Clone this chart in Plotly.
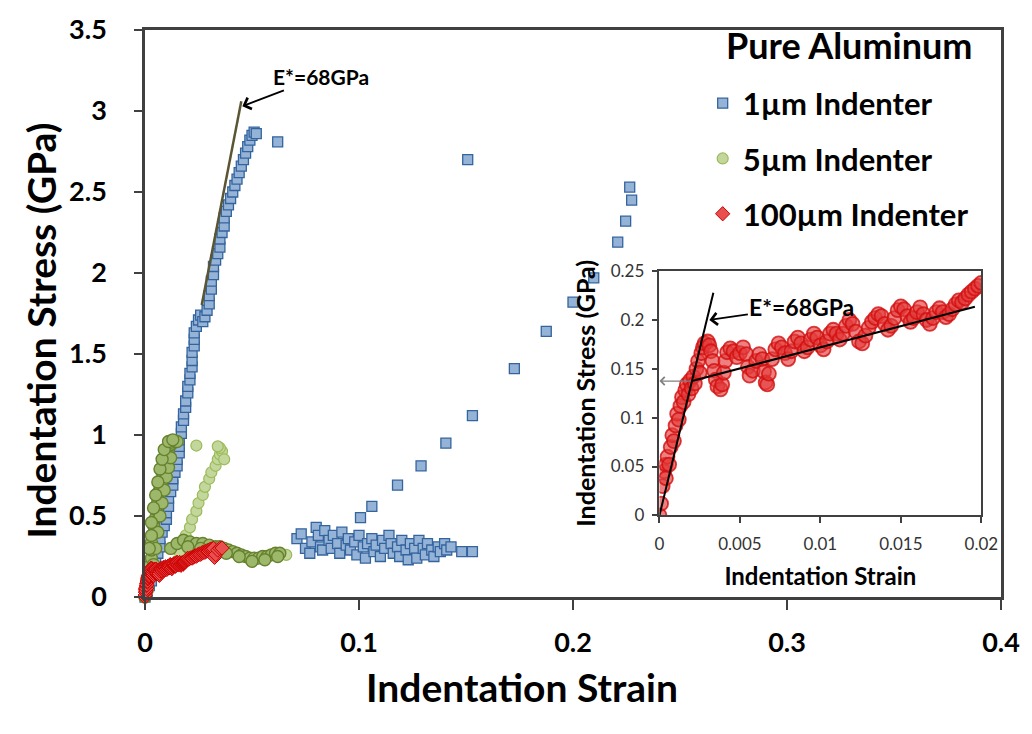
import plotly.graph_objects as go

# ---------------- data ----------------
# 1 um indenter (strain, stress in GPa)
strain_1um = [
    0.000, 0.001, 0.002, 0.003, 0.004, 0.004, 0.005, 0.006, 0.007, 0.007, 0.008, 0.009,
    0.010, 0.010, 0.011, 0.011, 0.012, 0.013, 0.013, 0.014, 0.015, 0.015, 0.016, 0.016,
    0.016, 0.017, 0.017, 0.018, 0.018, 0.019, 0.019, 0.020, 0.020, 0.021, 0.021, 0.022,
    0.022, 0.022, 0.023, 0.023, 0.023, 0.024, 0.025, 0.026, 0.027, 0.028, 0.029, 0.030,
    0.030, 0.031, 0.031, 0.032, 0.032, 0.033, 0.034, 0.035, 0.035, 0.036, 0.037, 0.037,
    0.038, 0.039, 0.040, 0.041, 0.042, 0.043, 0.044, 0.045, 0.046, 0.047, 0.048, 0.049,
    0.050, 0.051, 0.052,
    0.062,
    0.071, 0.073, 0.075, 0.077, 0.078, 0.080, 0.081, 0.082, 0.083, 0.084, 0.086, 0.087,
    0.088, 0.090, 0.091, 0.092, 0.094, 0.095, 0.096, 0.098, 0.099, 0.100, 0.102, 0.103,
    0.104, 0.106, 0.107, 0.108, 0.110, 0.111, 0.112, 0.114, 0.115, 0.116, 0.118, 0.119,
    0.120, 0.122, 0.123, 0.124, 0.126, 0.127, 0.128, 0.130, 0.131, 0.132, 0.134, 0.135,
    0.137, 0.138, 0.140, 0.141, 0.143, 0.148, 0.153,
    0.1007, 0.106, 0.118, 0.129, 0.1406, 0.153, 0.1726, 0.1875, 0.200, 0.2097, 0.2209,
    0.2246, 0.2274, 0.2265, 0.1508,
]
stress_1um = [
    0.00, 0.03, 0.07, 0.10, 0.14, 0.19, 0.23, 0.27, 0.31, 0.36, 0.40, 0.44,
    0.48, 0.52, 0.56, 0.61, 0.65, 0.69, 0.73, 0.77, 0.81, 0.85, 0.89, 0.93,
    0.97, 1.01, 1.05, 1.09, 1.13, 1.17, 1.21, 1.26, 1.30, 1.34, 1.38, 1.42,
    1.46, 1.51, 1.55, 1.59, 1.63, 1.67, 1.71, 1.74, 1.70, 1.73, 1.77, 1.81,
    1.86, 1.90, 1.95, 1.99, 2.04, 2.08, 2.12, 2.16, 2.21, 2.25, 2.29, 2.34,
    2.38, 2.42, 2.46, 2.50, 2.54, 2.58, 2.62, 2.66, 2.70, 2.74, 2.78, 2.82,
    2.85, 2.87, 2.86,
    2.81,
    0.36, 0.39, 0.30, 0.27, 0.34, 0.43, 0.38, 0.31, 0.29, 0.41, 0.35, 0.30,
    0.38, 0.33, 0.27, 0.40, 0.32, 0.36, 0.29, 0.34, 0.26, 0.38, 0.31, 0.24,
    0.33, 0.36, 0.28, 0.32, 0.25, 0.35, 0.30, 0.38, 0.33, 0.27, 0.31, 0.25,
    0.35, 0.29, 0.23, 0.33, 0.30, 0.24, 0.35, 0.30, 0.26, 0.33, 0.29, 0.25,
    0.31, 0.28, 0.33, 0.29, 0.31, 0.28, 0.28,
    0.49, 0.56, 0.69, 0.81, 0.95, 1.12, 1.41, 1.64, 1.82, 1.97, 2.19,
    2.32, 2.45, 2.53, 2.70,
]

# 5 um indenter: reloading branch (sparse points)
strain_5um_reload = [
    0.024,
    0.016, 0.018, 0.019, 0.021, 0.022, 0.024, 0.025, 0.027, 0.028, 0.030, 0.031, 0.033,
    0.034, 0.035, 0.036, 0.035, 0.034, 0.037, 0.066,
]
stress_5um_reload = [
    0.935,
    0.28, 0.33, 0.38, 0.43, 0.48, 0.53, 0.58, 0.63, 0.68, 0.73, 0.77, 0.81,
    0.85, 0.88, 0.90, 0.92, 0.93, 0.85, 0.26,
]
# 5 um indenter: first loading and unloaded tail (dense points)
strain_5um_load = [
    0.000, 0.001, 0.001, 0.002, 0.002, 0.003, 0.003, 0.003, 0.004, 0.004, 0.005, 0.005,
    0.006, 0.006, 0.007, 0.008, 0.008, 0.009, 0.010, 0.010, 0.011, 0.012, 0.013, 0.014,
    0.015,
    0.004, 0.005, 0.006, 0.007, 0.008, 0.009, 0.010, 0.011, 0.012, 0.002, 0.003,
    0.003, 0.004, 0.005, 0.006, 0.007, 0.008, 0.009, 0.011, 0.013,
    0.012, 0.015, 0.018, 0.021, 0.024, 0.027, 0.030, 0.033, 0.035, 0.037, 0.039, 0.041,
    0.043, 0.045, 0.047, 0.049, 0.051, 0.053, 0.055, 0.057, 0.059, 0.061, 0.063,
    0.020, 0.026, 0.032, 0.038, 0.044, 0.050, 0.056, 0.062,
]
stress_5um_load = [
    0.00, 0.04, 0.09, 0.14, 0.19, 0.24, 0.29, 0.34, 0.39, 0.44, 0.49, 0.54,
    0.59, 0.64, 0.68, 0.72, 0.77, 0.81, 0.85, 0.88, 0.91, 0.94, 0.95, 0.96,
    0.96,
    0.20, 0.30, 0.40, 0.50, 0.58, 0.66, 0.74, 0.80, 0.86, 0.30, 0.38,
    0.46, 0.55, 0.63, 0.71, 0.79, 0.85, 0.91, 0.96, 0.97,
    0.30, 0.33, 0.35, 0.34, 0.33, 0.33, 0.32, 0.31, 0.31, 0.30, 0.29, 0.28,
    0.27, 0.26, 0.25, 0.24, 0.24, 0.24, 0.25, 0.25, 0.26, 0.27, 0.27,
    0.31, 0.30, 0.28, 0.27, 0.25, 0.22, 0.23, 0.25,
]

# 100 um indenter
strain_100um = [
    0.0000, 0.0001, 0.0002, 0.0003, 0.0004, 0.0004, 0.0005, 0.0006, 0.0007, 0.0008,
    0.0009, 0.0010, 0.0011, 0.0012, 0.0013, 0.0014, 0.0015, 0.0016, 0.0017, 0.0018,
    0.0019, 0.0020, 0.0021, 0.0022, 0.0023, 0.0024, 0.0025, 0.0026, 0.0027, 0.0028,
    0.0030, 0.0031, 0.0032, 0.0033, 0.0034, 0.0035, 0.0036, 0.0038, 0.0039, 0.0040,
    0.0041, 0.0042, 0.0044, 0.0046, 0.0048, 0.0050, 0.0052, 0.0054, 0.0055, 0.0056,
    0.0058, 0.0060, 0.0062, 0.0064, 0.0065, 0.0066, 0.0067, 0.0068, 0.0070, 0.0072,
    0.0074, 0.0076, 0.0078, 0.0080, 0.0082, 0.0084, 0.0086, 0.0088, 0.0090, 0.0092,
    0.0094, 0.0096, 0.0098, 0.0100, 0.0102, 0.0104, 0.0106, 0.0108, 0.0110, 0.0112,
    0.0114, 0.0116, 0.0118, 0.0120, 0.0122, 0.0124, 0.0126, 0.0128, 0.0130, 0.0132,
    0.0134, 0.0136, 0.0138, 0.0140, 0.0142, 0.0144, 0.0146, 0.0148, 0.0150, 0.0152,
    0.0154, 0.0156, 0.0158, 0.0160, 0.0162, 0.0164, 0.0166, 0.0168, 0.0170, 0.0172,
    0.0174, 0.0176, 0.0178, 0.0180, 0.0182, 0.0184, 0.0186, 0.0188, 0.0190, 0.0192,
    0.0194, 0.0196, 0.0198, 0.0200, 0.0205, 0.0210, 0.0215, 0.0220, 0.0225, 0.0230,
    0.0235, 0.0240, 0.0245, 0.0250, 0.0255, 0.0260, 0.0265, 0.0270, 0.0275, 0.0280,
    0.0285, 0.0290, 0.0295, 0.0300, 0.0305, 0.0310, 0.0315, 0.0320, 0.0325, 0.0330,
    0.0340, 0.0350, 0.0360,
]
stress_100um = [
    0.000, 0.012, 0.030, 0.045, 0.052, 0.038, 0.060, 0.052, 0.070, 0.082,
    0.076, 0.092, 0.104, 0.098, 0.112, 0.121, 0.116, 0.128, 0.134, 0.124,
    0.138, 0.130, 0.142, 0.135, 0.150, 0.158, 0.146, 0.166, 0.172, 0.176,
    0.178, 0.174, 0.168, 0.158, 0.148, 0.139, 0.132, 0.129, 0.134, 0.146,
    0.158, 0.167, 0.171, 0.168, 0.162, 0.166, 0.172, 0.165, 0.152, 0.143,
    0.148, 0.158, 0.165, 0.160, 0.147, 0.136, 0.134, 0.145, 0.160, 0.170,
    0.176, 0.172, 0.166, 0.160, 0.168, 0.178, 0.182, 0.176, 0.168, 0.172,
    0.180, 0.186, 0.182, 0.174, 0.170, 0.178, 0.186, 0.190, 0.186, 0.180,
    0.186, 0.194, 0.200, 0.196, 0.188, 0.178, 0.176, 0.184, 0.192, 0.198,
    0.202, 0.206, 0.204, 0.196, 0.190, 0.194, 0.202, 0.210, 0.214, 0.211,
    0.204, 0.198, 0.202, 0.208, 0.213, 0.206, 0.200, 0.196, 0.202, 0.208,
    0.212, 0.208, 0.203, 0.206, 0.211, 0.216, 0.220, 0.218, 0.222, 0.226,
    0.229, 0.232, 0.235, 0.238, 0.234, 0.238, 0.242, 0.240, 0.246, 0.250,
    0.254, 0.252, 0.258, 0.262, 0.266, 0.264, 0.270, 0.274, 0.278, 0.276,
    0.282, 0.286, 0.284, 0.290, 0.294, 0.292, 0.296, 0.300, 0.245, 0.262,
    0.290, 0.300, 0.302,
]

# Elastic fit (reduced modulus, GPa) and plastic hardening fit
modulus_gpa = 68
elastic_fit_strain_main = [0.0265, 0.0450]
elastic_fit_strain_inset = [0.0, 0.00335]
hardening_fit_strain = [0.00202, 0.0196]
hardening_fit_stress = [0.1375, 0.2135]
yield_stress = 0.1375

FONT = "Lato"
AXIS_COLOR = "#404040"
label = f"E*={modulus_gpa}GPa"

fig = go.Figure()

fig.add_trace(go.Scatter(
    x=strain_1um, y=stress_1um, mode="markers", name="1µm Indenter",
    legendgroup="g1", cliponaxis=False,
    marker=dict(symbol="square", size=10, color="#95B3D7",
                line=dict(color="#34649E", width=1.3)),
))
fig.add_trace(go.Scatter(
    x=strain_5um_reload, y=stress_5um_reload, mode="markers", name="5µm Indenter",
    legendgroup="g2", cliponaxis=False,
    marker=dict(symbol="circle", size=11, color="#C3D69B",
                line=dict(color="#9BBB59", width=1.2)),
))
fig.add_trace(go.Scatter(
    x=strain_5um_load, y=stress_5um_load, mode="markers", name="5µm Indenter",
    legendgroup="g2", showlegend=False, cliponaxis=False,
    marker=dict(symbol="circle", size=12, color="#9DB86A",
                line=dict(color="#66822F", width=1.4)),
))
fig.add_trace(go.Scatter(
    x=strain_100um, y=stress_100um, mode="markers", name="100µm Indenter",
    legendgroup="g3", cliponaxis=False,
    marker=dict(symbol="diamond", size=11, color="rgb(232,80,80)",
                line=dict(color="rgb(205,0,0)", width=1)),
))

# elastic line on the main axes
fig.add_trace(go.Scatter(
    x=elastic_fit_strain_main, y=[modulus_gpa * s for s in elastic_fit_strain_main],
    mode="lines", line=dict(color="#5A5532", width=2.5),
    showlegend=False, hoverinfo="skip",
))

# inset: 100 um indenter, small-strain region
fig.add_trace(go.Scatter(
    x=strain_100um, y=stress_100um, mode="markers", name="100µm Indenter",
    xaxis="x2", yaxis="y2", showlegend=False,
    marker=dict(symbol="circle", size=14, color="rgba(228,60,60,0.65)",
                line=dict(color="rgba(210,15,15,0.8)", width=1.8)),
))
fig.add_trace(go.Scatter(
    x=elastic_fit_strain_inset, y=[modulus_gpa * s for s in elastic_fit_strain_inset],
    mode="lines", xaxis="x2", yaxis="y2", showlegend=False, hoverinfo="skip",
    line=dict(color="black", width=2),
))
fig.add_trace(go.Scatter(
    x=hardening_fit_strain, y=hardening_fit_stress,
    mode="lines", xaxis="x2", yaxis="y2", showlegend=False, hoverinfo="skip",
    line=dict(color="black", width=2),
))

fig.add_annotation(
    x=0.0455, y=3.03, xref="x", yref="y",
    ax=0.0821, ay=3.214, axref="x", ayref="y",
    text=label, showarrow=True, arrowhead=4, arrowsize=1.3, arrowwidth=1.8,
    arrowcolor="black", font=dict(family=FONT, size=21, color="black", weight="bold"),
)
fig.add_annotation(
    x=0.0031, y=0.200, xref="x2", yref="y2",
    ax=0.00885, ay=0.2136, axref="x2", ayref="y2",
    text=label, showarrow=True, arrowhead=4, arrowsize=1.3, arrowwidth=1.8,
    arrowcolor="black", font=dict(family=FONT, size=23, color="black", weight="bold"),
)
fig.add_annotation(
    x=0.0, y=yield_stress, xref="x2", yref="y2",
    ax=hardening_fit_strain[0], ay=yield_stress, axref="x2", ayref="y2",
    text="", showarrow=True, arrowhead=4, arrowsize=1.3, arrowwidth=1.2,
    arrowcolor="#808080",
)

# main axis titles
fig.add_annotation(
    x=0.441, y=-0.158, xref="paper", yref="paper", showarrow=False,
    text="Indentation Strain", xanchor="center", yanchor="middle",
    font=dict(family=FONT, size=39, color="black", weight="bold"),
)
fig.add_annotation(
    x=-0.1218, y=0.469, xref="paper", yref="paper", showarrow=False,
    text="Indentation Stress (GPa)", textangle=-90, xanchor="center", yanchor="middle",
    font=dict(family=FONT, size=39, color="black", weight="bold"),
)
# legend heading
fig.add_annotation(
    x=0.823, y=0.974, xref="paper", yref="paper", showarrow=False,
    text="Pure Aluminum", xanchor="center", yanchor="middle",
    font=dict(family=FONT, size=36, color="black", weight="bold"),
)

fig.update_layout(
    width=1032, height=734, autosize=False,
    margin=dict(l=145, r=25, t=21, b=137),
    paper_bgcolor="white", plot_bgcolor="white",
    font=dict(family=FONT, color="black"),
    showlegend=True,
    legend=dict(
        x=0.6515, y=0.918, xanchor="left", yanchor="top",
        bgcolor="rgba(0,0,0,0)", tracegroupgap=12,
        font=dict(family=FONT, size=31, color="black", weight="bold"),
    ),
    xaxis=dict(
        domain=[0, 1], anchor="y", range=[0, 0.4], tick0=0, dtick=0.1,
        showgrid=False, zeroline=False, showline=True, mirror=True,
        linecolor=AXIS_COLOR, linewidth=2.5,
        ticks="outside", ticklen=10, tickwidth=2, tickcolor=AXIS_COLOR,
        ticklabelstandoff=10,
        tickfont=dict(family=FONT, size=27, color="black", weight="bold"),
    ),
    yaxis=dict(
        domain=[0, 1], anchor="x", range=[0, 3.5], tick0=0, dtick=0.5,
        showgrid=False, zeroline=False, showline=True, mirror=True,
        linecolor=AXIS_COLOR, linewidth=2.5,
        ticks="outside", ticklen=8, tickwidth=2, tickcolor=AXIS_COLOR,
        ticklabelstandoff=22,
        tickfont=dict(family=FONT, size=27, color="black", weight="bold"),
    ),
    xaxis2=dict(
        domain=[0.601, 0.977], anchor="y2", range=[0, 0.02], tick0=0, dtick=0.005,
        showgrid=False, zeroline=False, showline=True, mirror=True,
        linecolor=AXIS_COLOR, linewidth=1.5,
        ticks="outside", ticklen=6, tickwidth=1.5, tickcolor=AXIS_COLOR,
        ticklabelstandoff=6,
        tickfont=dict(family=FONT, size=17, color="#333333"),
        title=dict(text="Indentation Strain", standoff=16,
                   font=dict(family=FONT, size=24, color="black", weight="bold")),
    ),
    yaxis2=dict(
        domain=[0.144, 0.5747], anchor="x2", range=[0, 0.25], tick0=0, dtick=0.05,
        showgrid=False, zeroline=False, showline=True, mirror=True,
        linecolor=AXIS_COLOR, linewidth=1.5,
        ticks="outside", ticklen=6, tickwidth=1.5, tickcolor=AXIS_COLOR,
        ticklabelstandoff=4,
        tickfont=dict(family=FONT, size=17, color="#333333"),
        title=dict(text="Indentation Stress (GPa)", standoff=8,
                   font=dict(family=FONT, size=25, color="black", weight="bold")),
    ),
)

fig.write_html("out.html")
